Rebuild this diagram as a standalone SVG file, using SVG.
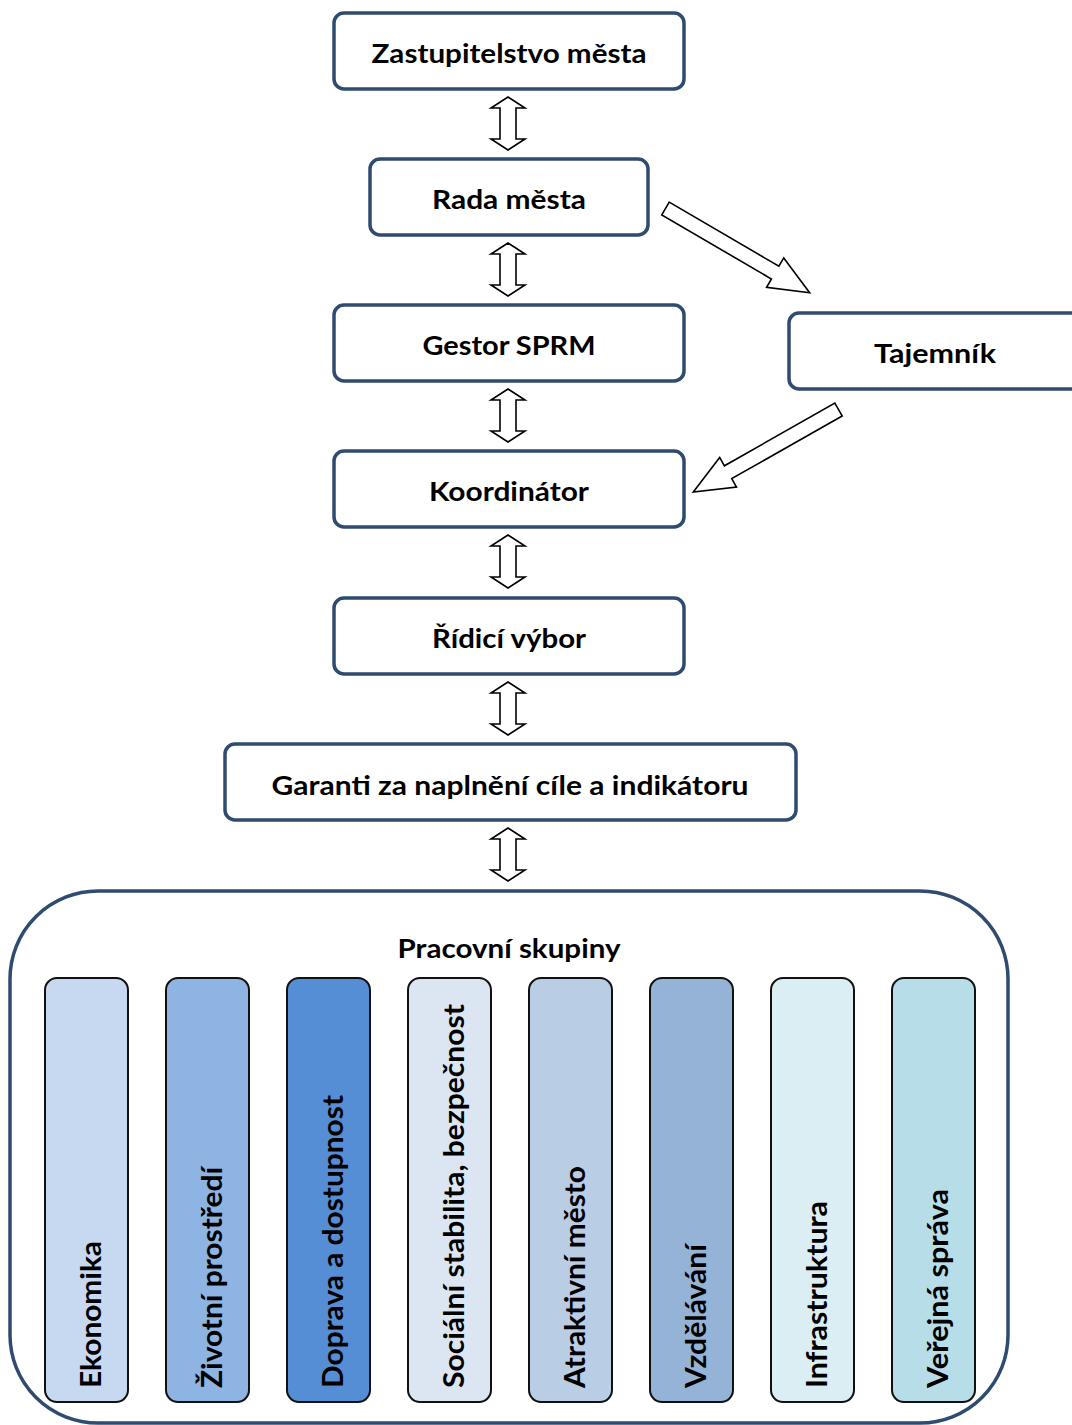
<svg xmlns="http://www.w3.org/2000/svg" width="1072" height="1425" viewBox="0 0 1072 1425">
<style>
.box{fill:#fff;stroke:#2f4b6f;stroke-width:3.5}
.lbl{font-family:Lato,"Liberation Sans",sans-serif;font-weight:bold;font-size:26.5px;fill:#000;text-anchor:middle}
.bar{stroke:#111;stroke-width:2}
.vl{font-family:Lato,"Liberation Sans",sans-serif;font-weight:bold;font-size:28.5px;fill:#000}
.arr{fill:#fff;stroke:#000;stroke-width:1.6;stroke-linejoin:miter}
</style>
<defs>
<polygon id="dbl" points="0,0 17,11 8,11 8,42 17,42 0,53 -17,42 -8,42 -8,11 -17,11"/>
<polygon id="diag" points="0,-7.4 127,-7.4 127,-17 167,0 127,17 127,7.4 0,7.4"/>
</defs>
<rect width="1072" height="1425" fill="#fff"/>
<g id="connectors">
<use href="#dbl" class="arr" x="508" y="97"/>
<use href="#dbl" class="arr" x="508" y="243"/>
<use href="#dbl" class="arr" x="508" y="389"/>
<use href="#dbl" class="arr" x="508" y="535"/>
<use href="#dbl" class="arr" x="508" y="682"/>
<use href="#dbl" class="arr" x="508" y="828"/>
<use href="#diag" class="arr" transform="translate(665.5,208.5) rotate(30.3)"/>
<use href="#diag" class="arr" transform="translate(838.5,409.5) rotate(150.4)"/>
</g>
<g id="n-zastupitelstvo"><rect class="box" x="334" y="13" width="350" height="76" rx="10"/><text class="lbl" x="509" y="63" textLength="275" lengthAdjust="spacingAndGlyphs">Zastupitelstvo města</text></g>
<g id="n-rada"><rect class="box" x="370" y="159" width="278" height="76" rx="10"/><text class="lbl" x="509" y="209" textLength="154" lengthAdjust="spacingAndGlyphs">Rada města</text></g>
<g id="n-gestor"><rect class="box" x="334" y="305" width="350" height="76" rx="10"/><text class="lbl" x="509" y="355" textLength="173" lengthAdjust="spacingAndGlyphs">Gestor SPRM</text></g>
<g id="n-tajemnik"><rect class="box" x="789" y="313" width="292" height="76" rx="10"/><text class="lbl" x="935" y="363" textLength="122" lengthAdjust="spacingAndGlyphs">Tajemník</text></g>
<g id="n-koordinator"><rect class="box" x="334" y="451" width="350" height="76" rx="10"/><text class="lbl" x="509" y="501" textLength="160" lengthAdjust="spacingAndGlyphs">Koordinátor</text></g>
<g id="n-ridici"><rect class="box" x="334" y="598" width="350" height="76" rx="10"/><text class="lbl" x="509" y="648" textLength="154" lengthAdjust="spacingAndGlyphs">Řídicí výbor</text></g>
<g id="n-garanti"><rect class="box" x="225" y="744" width="571" height="76" rx="10"/><text class="lbl" x="510" y="795" textLength="477" lengthAdjust="spacingAndGlyphs">Garanti za naplnění cíle a indikátoru</text></g>
<g id="n-pracovni">
<rect class="box" x="10" y="891" width="998" height="532" rx="88"/>
<text class="lbl" x="509" y="958" textLength="223" lengthAdjust="spacingAndGlyphs">Pracovní skupiny</text>
<g id="s1"><rect class="bar" x="45" y="978" width="83" height="424" rx="12" fill="#c6d9f1"/><text class="vl" transform="translate(101,1388) rotate(-90)" textLength="147" lengthAdjust="spacingAndGlyphs">Ekonomika</text></g>
<g id="s2"><rect class="bar" x="166" y="978" width="83" height="424" rx="12" fill="#8eb4e3"/><text class="vl" transform="translate(222,1388) rotate(-90)" textLength="221" lengthAdjust="spacingAndGlyphs">Životní prostředí</text></g>
<g id="s3"><rect class="bar" x="287" y="978" width="83" height="424" rx="12" fill="#558ed5"/><text class="vl" transform="translate(343,1388) rotate(-90)" textLength="293" lengthAdjust="spacingAndGlyphs">Doprava a dostupnost</text></g>
<g id="s4"><rect class="bar" x="408" y="978" width="83" height="424" rx="12" fill="#dce6f2"/><text class="vl" transform="translate(464,1388) rotate(-90)" textLength="384" lengthAdjust="spacingAndGlyphs">Sociální stabilita, bezpečnost</text></g>
<g id="s5"><rect class="bar" x="529" y="978" width="83" height="424" rx="12" fill="#b9cde5"/><text class="vl" transform="translate(585,1388) rotate(-90)" textLength="222" lengthAdjust="spacingAndGlyphs">Atraktivní město</text></g>
<g id="s6"><rect class="bar" x="650" y="978" width="83" height="424" rx="12" fill="#95b3d7"/><text class="vl" transform="translate(706,1388) rotate(-90)" textLength="144" lengthAdjust="spacingAndGlyphs">Vzdělávání</text></g>
<g id="s7"><rect class="bar" x="771" y="978" width="83" height="424" rx="12" fill="#dbeef4"/><text class="vl" transform="translate(827,1388) rotate(-90)" textLength="187" lengthAdjust="spacingAndGlyphs">Infrastruktura</text></g>
<g id="s8"><rect class="bar" x="892" y="978" width="83" height="424" rx="12" fill="#b7dde8"/><text class="vl" transform="translate(948,1388) rotate(-90)" textLength="199" lengthAdjust="spacingAndGlyphs">Veřejná správa</text></g>
</g>
</svg>
